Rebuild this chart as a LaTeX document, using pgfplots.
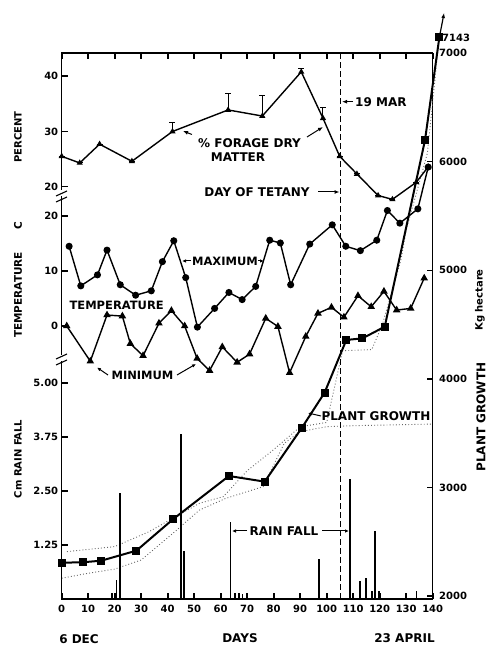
\documentclass[border=0pt]{standalone}
\usepackage{pgfplots}
\usepackage{pgfplotstable}
\pgfplotsset{compat=1.18}
\usepackage{fontspec}
\setmainfont{DejaVu Sans}
\usetikzlibrary{arrows.meta}
\newcommand\fs[1]{\fontsize{#1}{#1}\selectfont\bfseries}

\pgfplotstableread{
x y e
0 25.5 0
6.8 24.3 0
14.3 27.7 0
26.5 24.6 0
41.8 30.0 1.6
62.8 33.9 3.0
75.7 32.8 3.8
90.4 40.8 0.6
98.6 32.4 2.0
104.9 25.5 0
111.4 22.3 0
119.4 18.4 0
124.8 17.7 0
133.8 20.8 0
138.3 23.6 0
}\percent

\pgfplotstableread{
x y
2.8 14.5
7.2 7.3
13.5 9.3
17.1 13.8
22.1 7.5
27.9 5.6
33.8 6.4
38.0 11.7
42.3 15.5
46.8 8.8
51.2 -0.2
57.7 3.2
63.1 6.1
68.1 4.8
73.2 7.2
78.5 15.6
82.5 15.1
86.4 7.5
93.6 14.9
102.1 18.4
107.2 14.5
112.7 13.7
118.9 15.6
122.9 21.0
127.6 18.7
134.4 21.3
138.3 28.9
}\tmax

\pgfplotstableread{
x y
1.9 0
10.8 -6.4
17.1 2.0
22.9 1.8
25.9 -3.2
30.7 -5.4
36.7 0.5
41.4 2.8
46.4 0
51.1 -5.9
55.8 -8.1
60.6 -3.8
66.2 -6.6
70.9 -5.1
77.0 1.4
81.6 -0.1
86.0 -8.5
92.1 -1.9
96.7 2.3
101.8 3.4
106.5 1.6
111.8 5.5
116.8 3.5
121.6 6.3
126.4 2.9
131.7 3.2
136.8 8.7
}\tmin

\pgfplotstableread{
x y
0 2309
8.0 2313
15.0 2328
28.2 2420
42.0 2709
63.1 3107
76.6 3055
90.5 3546
99.2 3874
107.4 4359
113.5 4374
121.9 4481
137.1 6199
142.5 7143
}\growth

\pgfplotstableread{
x y
0 2166
10 2212
20 2250
30 2334
42 2580
52 2794
62 2902
70 2963
76 3009
84 3408
90 3515
100 3561
110 3570
120 3575
130 3580
140 3585
}\dotlow

\pgfplotstableread{
x y
2 2411
20 2457
33 2595
43 2733
52 2856
61 2917
70 3156
80 3350
90 3560
100 3600
106 4260
117 4270
121 4500
128 5095
130 5370
138 6080
142 7030
}\dothigh

\pgfplotstableread{
x y
19.1 0.15
20.7 0.44
22.1 2.46
44.9 3.81
46.2 1.12
63.7 1.79
65.5 0.15
67.0 0.15
68.2 0.12
97.1 0.93
108.9 2.78
112.6 0.42
114.8 0.48
117.0 0.18
118.2 1.57
119.7 0.18
133.9 0.18
}\rain

\begin{document}
\begin{tikzpicture}
\useasboundingbox (0pt,0pt) rectangle (490pt,651pt);
\pgfplotsset{
 base/.style={scale only axis, width=371pt, xmin=0, xmax=140, clip=false,
   anchor=south west,
   /pgf/number format/assume math mode=true,
   tick label style={font=\fs{10}},
   tick align=inside, major tick length=6pt,
   axis line style={line width=1.5pt,-},
   major tick style={line width=1.6pt, black}},
 sub/.style={base, axis x line=none, axis y line*=left},
}
% frame + plant growth
\begin{axis}[base, at={(61.7pt,52pt)}, height=546pt, ymin=1975, ymax=7000,
  xtick pos=both, xticklabel pos=lower,
  ytick pos=right, yticklabel pos=right,
  xtick={0,10,...,140}, ytick={2000,3000,...,7000},
  scaled y ticks=false, /pgf/number format/1000 sep={},
  xticklabel style={yshift=-3pt}, yticklabel style={xshift=3pt}]
\pgfplotsinvokeforeach{10,20,...,130}{
  \draw[line width=1.6pt] (axis cs:#1,1975) -- ++(0pt,5pt);
  \draw[line width=1.6pt] (axis cs:#1,7000) -- ++(0pt,-6pt);
}
\pgfplotsinvokeforeach{2000,3000,...,6000}{
  \draw[line width=1.6pt] (axis cs:140,#1) -- ++(-6pt,0pt);
}
\addplot[black!60, line width=0.9pt, dash pattern=on 0.9pt off 2.2pt] table[x=x,y=y] {\dotlow};
\addplot[black!60, line width=0.9pt, dash pattern=on 0.9pt off 2.2pt] table[x=x,y=y] {\dothigh};
\addplot[black, line width=2pt, mark=square*, mark size=3pt] table[x=x,y=y] {\growth};
\draw[black, line width=1.3pt, dash pattern=on 6pt off 3pt] (axis cs:105.3,1975) -- (axis cs:105.3,7000);
\draw[-{Latex[length=5pt,width=4pt]}, line width=1.2pt] (axis cs:142.5,7143) -- (axis cs:144.3,7368);
\node[anchor=west, font=\fs{10}, inner sep=0pt] at (axis cs:143.5,7143) {7143};
\end{axis}
% gaps in the left spine
\fill[white] (58pt,455pt) rectangle (66pt,461pt);
\fill[white] (58pt,290pt) rectangle (66pt,296pt);
% percent
\begin{axis}[sub, at={(61.7pt,461pt)}, height=137pt, ymin=19.40, ymax=44.22, ytick={20,30,40}]
\pgfplotsinvokeforeach{20,30,40}{
  \draw[line width=1.6pt] (axis cs:0,#1) -- ++(6pt,0pt);
}
\addplot[black, line width=1.4pt, mark=triangle*, mark size=2.2pt,
  error bars/.cd, y dir=plus, y explicit,
  error bar style={line width=1pt},
  error mark options={rotate=90, mark size=3pt, line width=1pt}]
  table[x=x,y=y,y error=e] {\percent};
\end{axis}
% temperature
\begin{axis}[sub, at={(61.7pt,296pt)}, height=159pt, ymin=-5.27, ymax=23.64, ytick={0,10,20}]
\pgfplotsinvokeforeach{0,10,20}{
  \draw[line width=1.6pt] (axis cs:0,#1) -- ++(6pt,0pt);
}
\addplot[black, line width=1.4pt, mark=*, mark size=2.8pt] table[x=x,y=y] {\tmax};
\addplot[black, line width=1.4pt, mark=triangle*, mark size=3pt] table[x=x,y=y] {\tmin};
\end{axis}
% rain
\begin{axis}[sub, at={(61.7pt,52pt)}, height=238pt, ymin=0, ymax=5.509,
  ytick={1.25,2.5,3.75,5}, yticklabels={1.25,2.50,3.75,5.00}]
\pgfplotsinvokeforeach{1.25,2.5,3.75,5}{
  \draw[line width=1.6pt] (axis cs:0,#1) -- ++(6pt,0pt);
}
\addplot[black, line width=1.8pt, ycomb] table[x=x,y=y] {\rain};
\end{axis}

\begin{scope}[x=1pt,y=1pt]
% axis breaks
\draw[line width=1.1pt] (56,455) -- (67,460);
\draw[line width=1.1pt] (56,449) -- (67,454);
\draw[line width=1.1pt] (56,292) -- (67,297);
\draw[line width=1.1pt] (56,286) -- (67,291);
% axis titles
\node[rotate=90, font=\fs{10}] at (18,514) {PERCENT};
\node[rotate=90, font=\fs{10.5}] at (18,371) {TEMPERATURE\hspace{22pt}C};
\node[rotate=90, font=\fs{10}] at (18,192) {Cm RAIN FALL};
\node[rotate=90, font=\fs{10}] at (480,351) {Kg hectare};
\node[rotate=90, font=\fs{12}] at (481,234) {PLANT GROWTH};
\node[font=\fs{12}] at (240,13) {DAYS};
\node[font=\fs{12}] at (79,12) {6 DEC};
\node[font=\fs{12}] at (404.5,13) {23 APRIL};
% inner labels
\node[font=\fs{12}] at (249.5,508) {\% FORAGE DRY};
\node[font=\fs{12}] at (238,494) {MATTER};
\draw[-{Latex[length=5pt,width=4pt]}, line width=1pt] (192,516.5) -- (183,520);
\draw[-{Latex[length=5pt,width=4pt]}, line width=1pt] (307,514) -- (323,524);
\node[font=\fs{12}] at (257,459) {DAY OF TETANY};
\draw[-{Latex[length=5pt,width=4pt]}, line width=1pt] (318,459) -- (339.5,459);
\draw[-{Latex[length=5pt,width=4pt]}, line width=1pt] (353,549.3) -- (342,549.3);
\node[anchor=west, font=\fs{12}, inner sep=0pt] at (355,549.3) {19 MAR};
\node[font=\fs{11.5}] at (225,390) {MAXIMUM};
\draw[-{Latex[length=4pt,width=3.5pt]}, line width=1pt] (191,390) -- (182,390);
\draw[-{Latex[length=4pt,width=3.5pt]}, line width=1pt] (258,390) -- (264,390);
\node[font=\fs{11.5}] at (116.7,346) {TEMPERATURE};
\node[font=\fs{11.5}] at (142.5,276) {MINIMUM};
\draw[-{Latex[length=4pt,width=3.5pt]}, line width=1pt] (108,276) -- (97,283.5);
\draw[-{Latex[length=4pt,width=3.5pt]}, line width=1pt] (177,276) -- (196,287);
\node[font=\fs{12}] at (376,235) {PLANT GROWTH};
\draw[-{Latex[length=4pt,width=3.5pt]}, line width=1pt] (321,235) -- (308,238);
\node[font=\fs{12}] at (284,120) {RAIN FALL};
\draw[-{Latex[length=4pt,width=3.5pt]}, line width=1pt] (247,120) -- (232,120);
\draw[-{Latex[length=4pt,width=3.5pt]}, line width=1pt] (322,120) -- (349,120);
\end{scope}
\end{tikzpicture}
\end{document}
